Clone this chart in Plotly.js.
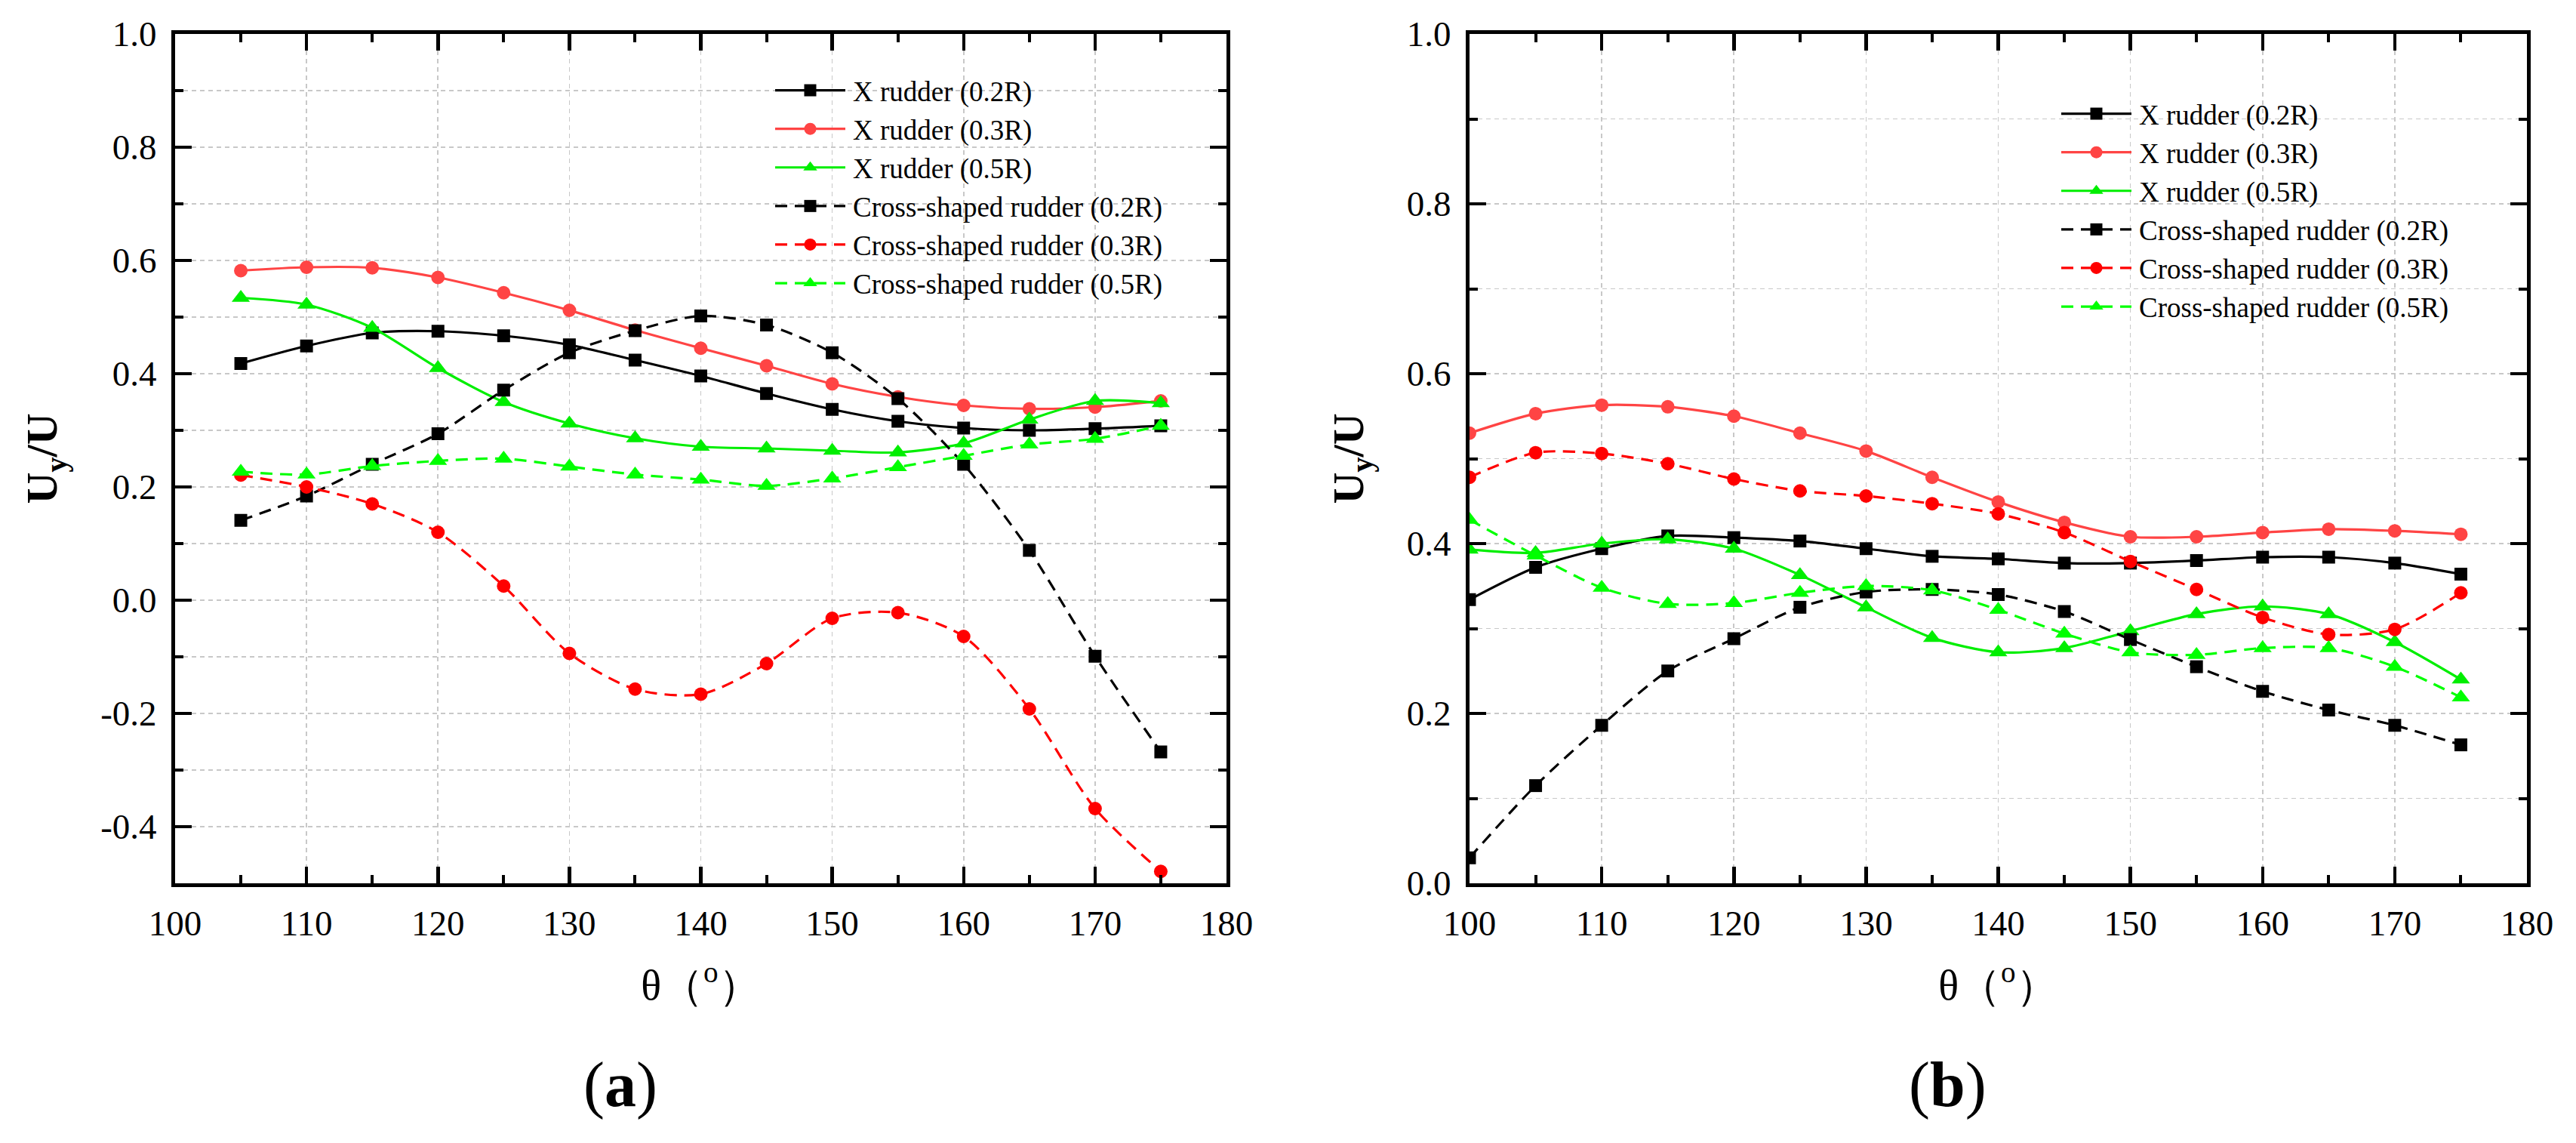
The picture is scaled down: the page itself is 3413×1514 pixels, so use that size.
<!DOCTYPE html>
<html>
<head>
<meta charset="utf-8">
<script src="https://cdn.plot.ly/plotly-3.0.1.min.js"></script>
<style>html,body{margin:0;padding:0;background:#fff;}</style>
</head>
<body>
<div id="chart" style="width:3413px;height:1514px;"></div>
<script>
// ---- data ----
const thetaA = [105,110,115,120,125,130,135,140,145,150,155,160,165,170,175];
const thetaB = [100,105,110,115,120,125,130,135,140,145,150,155,160,165,170,175];

const seriesNames = ['X rudder (0.2R)','X rudder (0.3R)','X rudder (0.5R)',
  'Cross-shaped rudder (0.2R)','Cross-shaped rudder (0.3R)','Cross-shaped rudder (0.5R)'];

// panel (a)
const aX02 = [0.418,0.449,0.472,0.475,0.467,0.451,0.424,0.396,0.365,0.337,0.316,0.304,0.300,0.303,0.308];
const aX03 = [0.582,0.588,0.587,0.570,0.543,0.512,0.477,0.445,0.414,0.382,0.359,0.344,0.338,0.341,0.352];
const aX05 = [0.534,0.522,0.481,0.410,0.350,0.312,0.286,0.271,0.268,0.264,0.261,0.277,0.319,0.352,0.348];
const aC02 = [0.141,0.184,0.240,0.294,0.371,0.437,0.476,0.502,0.486,0.437,0.356,0.240,0.088,-0.099,-0.268];
const aC03 = [0.221,0.200,0.170,0.120,0.025,-0.094,-0.157,-0.166,-0.112,-0.032,-0.022,-0.064,-0.192,-0.368,-0.479];
const aC05 = [0.227,0.222,0.237,0.246,0.250,0.236,0.222,0.213,0.202,0.215,0.235,0.255,0.275,0.285,0.308];

// panel (b)
const bX02 = [0.334,0.372,0.394,0.409,0.407,0.403,0.394,0.385,0.382,0.377,0.377,0.380,0.384,0.384,0.377,0.364];
const bX03 = [0.530,0.553,0.563,0.561,0.550,0.530,0.509,0.478,0.449,0.425,0.408,0.408,0.413,0.417,0.415,0.411];
const bX05 = [0.393,0.389,0.400,0.405,0.394,0.363,0.325,0.289,0.272,0.277,0.297,0.317,0.326,0.317,0.284,0.240];
const bC02 = [0.030,0.115,0.186,0.250,0.288,0.325,0.343,0.346,0.340,0.320,0.287,0.255,0.226,0.204,0.186,0.163];
const bC03 = [0.478,0.507,0.506,0.494,0.476,0.462,0.456,0.447,0.435,0.413,0.379,0.346,0.313,0.293,0.299,0.342];
const bC05 = [0.428,0.386,0.348,0.329,0.330,0.342,0.350,0.345,0.322,0.294,0.272,0.269,0.277,0.277,0.255,0.219];

// tick labels
const xTickVals = [100,110,120,130,140,150,160,170,180];
const xTickText = ['100','110','120','130','140','150','160','170','180'];
const yTickValsA = [-0.4,-0.2,0.0,0.2,0.4,0.6,0.8,1.0];
const yTickTextA = ['-0.4','-0.2','0.0','0.2','0.4','0.6','0.8','1.0'];
const yTickValsB = [0.0,0.2,0.4,0.6,0.8,1.0];
const yTickTextB = ['0.0','0.2','0.4','0.6','0.8','1.0'];

const xTitle = 'θ（<sup>o</sup>）';
const yTitle = '<b>U<sub>y</sub>/U</b>';
const panelLabels = ['(<b>a</b>)','(<b>b</b>)'];

// ---- styles ----
const W = 3413, H = 1514;
const FONT = '"Liberation Serif", "Times New Roman", Times, serif';
const styles = [
  {color:'#000000', symbol:'square', dash:'solid', size:17},
  {color:'#ff4444', symbol:'circle', dash:'solid', size:18},
  {color:'#00ee00', symbol:'triangle-up', dash:'solid', size:21},
  {color:'#000000', symbol:'square', dash:'16px,10px', size:17},
  {color:'#ff0000', symbol:'circle', dash:'16px,10px', size:18},
  {color:'#00ff00', symbol:'triangle-up', dash:'16px,10px', size:21}
];

function makeTrace(x, y, i, xa, ya, leg) {
  const s = styles[i];
  return {
    type:'scatter', mode:'lines+markers', x:x, y:y, name:seriesNames[i],
    xaxis:xa, yaxis:ya, legend:leg,
    line:{color:s.color, width:3.2, dash:s.dash, shape:'spline', smoothing:0.8},
    marker:{color:s.color, symbol:s.symbol, size:s.size, line:{width:0}},
    cliponaxis:true
  };
}

const dataA = [aX02,aX03,aX05,aC02,aC03,aC05];
const dataB = [bX02,bX03,bX05,bC02,bC03,bC05];
const traces = [];
dataA.forEach((y,i)=>traces.push(makeTrace(thetaA, y, i, 'x', 'y', 'legend')));
dataB.forEach((y,i)=>traces.push(makeTrace(thetaB, y, i, 'x2', 'y2', 'legend2')));

const gridCol = '#c8c8c8';
function xAxis(domain, anchor) {
  return {
    domain:domain, anchor:anchor, range:[100,180], autorange:false,
    tickmode:'array', tickvals:xTickVals, ticktext:xTickText,
    ticks:'inside', ticklen:22, tickwidth:4.5, tickcolor:'#000',
    showline:true, linewidth:5, linecolor:'#000', mirror:'allticks',
    showgrid:true, gridcolor:gridCol, gridwidth:1.6, griddash:'6px,5px',
    zeroline:false,
    minor:{tickmode:'linear', tick0:100, dtick:5, ticks:'inside', ticklen:11, tickwidth:4, tickcolor:'#000', showgrid:false},
    tickfont:{family:FONT, size:47, color:'#000'},
    ticklabelstandoff:8,
    title:{text:xTitle, font:{family:FONT, size:56, color:'#000'}, standoff:38},
    automargin:false
  };
}
function yAxis(domain, anchor, range, tv, tt) {
  return {
    domain:domain, anchor:anchor, range:range, autorange:false,
    tickmode:'array', tickvals:tv, ticktext:tt,
    ticks:'inside', ticklen:22, tickwidth:4.5, tickcolor:'#000',
    showline:true, linewidth:5, linecolor:'#000', mirror:'allticks',
    showgrid:true, gridcolor:gridCol, gridwidth:1.6, griddash:'6px,5px',
    zeroline:false,
    minor:{tickmode:'linear', tick0:0, dtick:0.1, ticks:'inside', ticklen:11, tickwidth:4, tickcolor:'#000',
           showgrid:true, gridcolor:gridCol, gridwidth:1.6, griddash:'6px,5px'},
    tickfont:{family:FONT, size:47, color:'#000'},
    ticklabelstandoff:10,
    title:{text:yTitle, font:{family:FONT, size:58, color:'#000'}, standoff:40},
    automargin:false
  };
}

const yDom = [1-1170/H, 1-45/H];
const layout = {
  width:W, height:H,
  margin:{l:0, r:0, t:0, b:0},
  paper_bgcolor:'#ffffff', plot_bgcolor:'#ffffff',
  font:{family:FONT, color:'#000'},
  showlegend:true,
  xaxis: xAxis([232/W, 1625/W], 'y'),
  yaxis: yAxis(yDom, 'x', [-0.5, 1.0], yTickValsA, yTickTextA),
  xaxis2: xAxis([1947/W, 3348/W], 'y2'),
  yaxis2: yAxis(yDom, 'x2', [0, 1.0], yTickValsB, yTickTextB),
  legend:{x:1090/W, y:1-89/H, xanchor:'left', yanchor:'top', bgcolor:'rgba(0,0,0,0)',
          font:{family:FONT, size:37, color:'#000'}, tracegroupgap:0, itemwidth:30},
  legend2:{x:2794/W, y:1-120/H, xanchor:'left', yanchor:'top', bgcolor:'rgba(0,0,0,0)',
          font:{family:FONT, size:37, color:'#000'}, tracegroupgap:0, itemwidth:30},
  annotations:[
    {text:panelLabels[0], xref:'paper', yref:'paper', x:822/W, y:1-1437/H, xanchor:'center', yanchor:'middle',
     showarrow:false, font:{family:FONT, size:84, color:'#000'}},
    {text:panelLabels[1], xref:'paper', yref:'paper', x:2580/W, y:1-1437/H, xanchor:'center', yanchor:'middle',
     showarrow:false, font:{family:FONT, size:84, color:'#000'}}
  ]
};

// lengthen legend line samples leftwards to match the reference (idempotent)
function tweakLegends(gd) {
  const info = gd.querySelector('.infolayer');
  if (!info) return;
  info.querySelectorAll('[clip-path]').forEach(function(el){ el.removeAttribute('clip-path'); });
  info.querySelectorAll('g.traces').forEach(function(t){
    t.querySelectorAll('.legendlines path').forEach(function(p){ p.setAttribute('d','M-63,0h93'); });
    t.querySelectorAll('.legendpoints path').forEach(function(p){ p.setAttribute('transform','translate(-16.5,0)'); });
  });
}

Plotly.newPlot('chart', traces, layout, {staticPlot:true, responsive:false}).then(function(gd){
  tweakLegends(gd);
  gd.on('plotly_afterplot', function(){ tweakLegends(gd); });
  setTimeout(function(){ tweakLegends(gd); }, 200);
});
</script>
</body>
</html>
